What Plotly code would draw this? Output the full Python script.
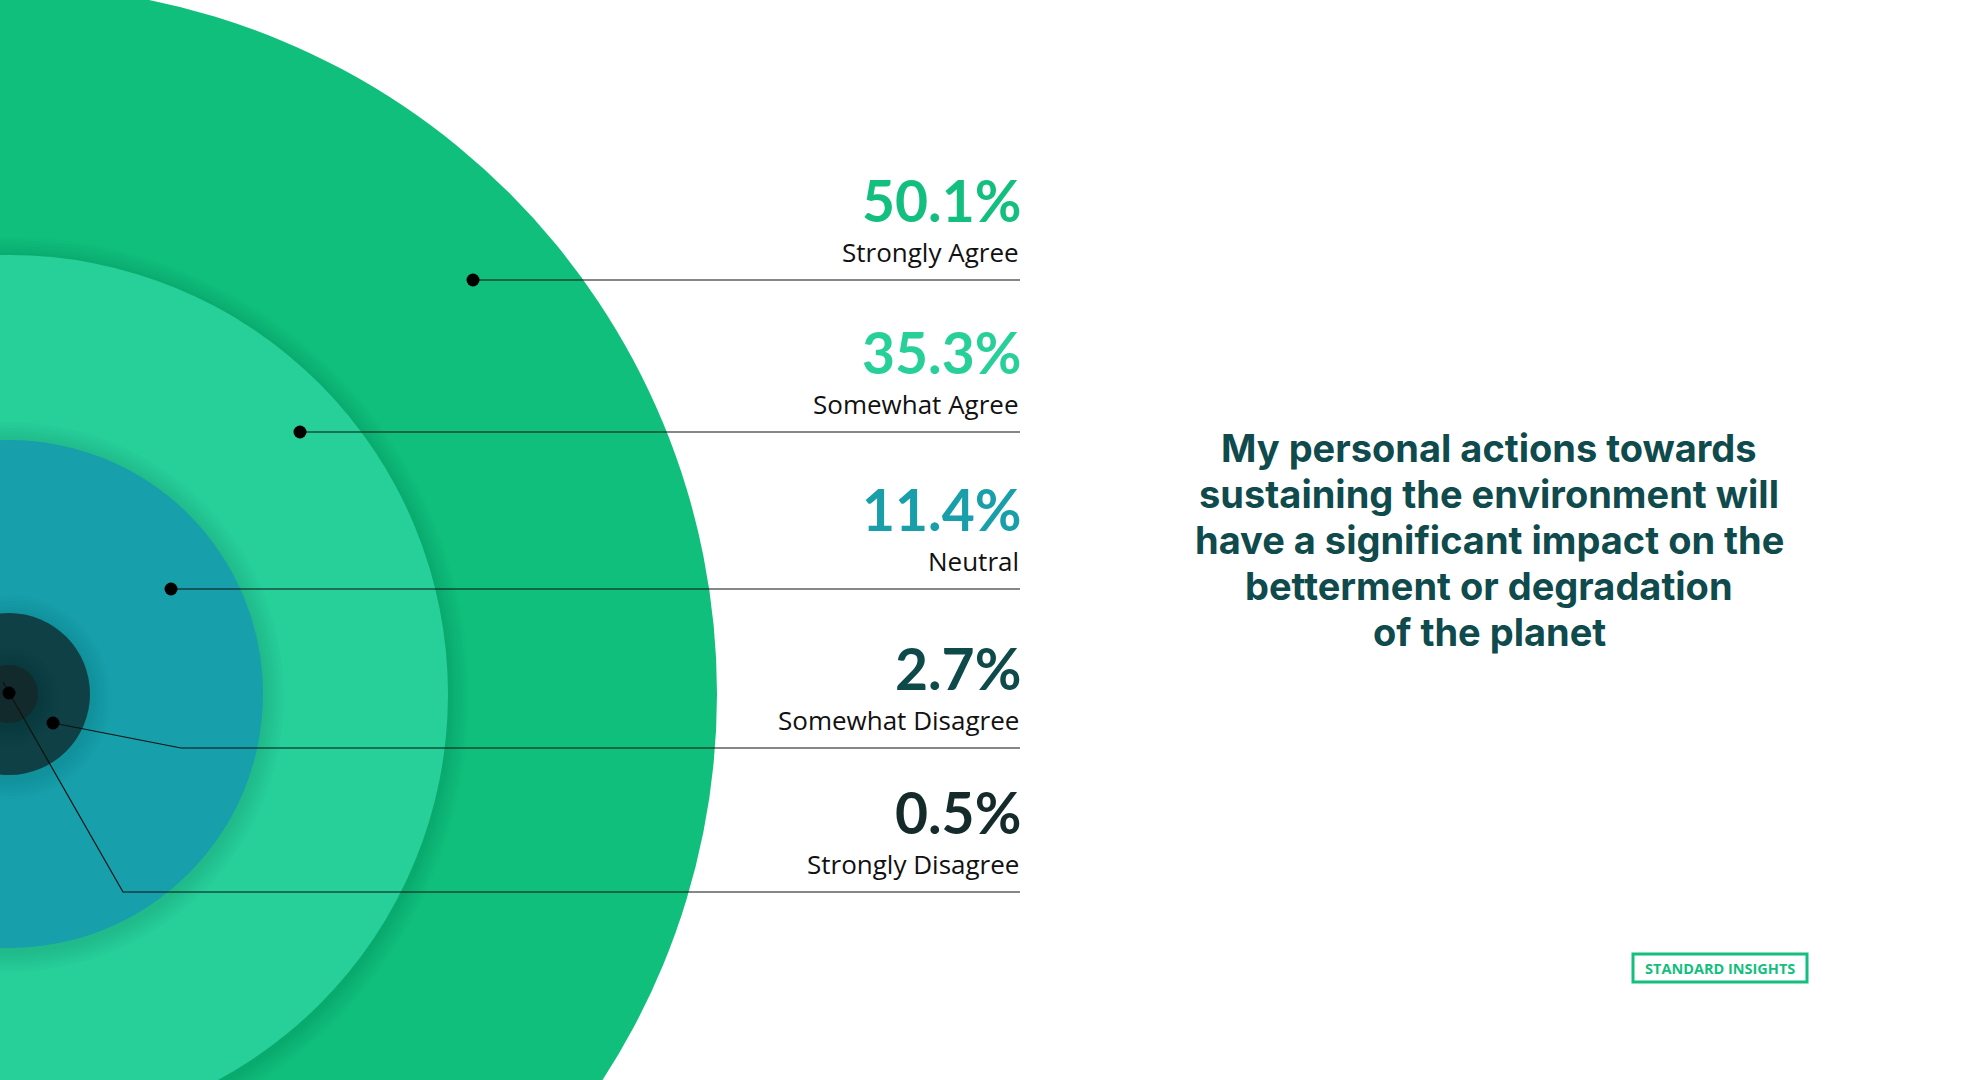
import plotly.graph_objects as go

# survey answers, outer ring first
categories = ["Strongly Agree", "Somewhat Agree", "Neutral", "Somewhat Disagree", "Strongly Disagree"]
shares = [50.1, 35.3, 11.4, 2.7, 0.5]
question_lines = ["My personal actions towards", "sustaining the environment will",
                  "have a significant impact on the", "betterment or degradation",
                  "of the planet"]

ring_colors = ["#10BF7C", "#27CF99", "#179FAB", "#0E4045", "#132A2C"]
text_colors = ["#13BF7E", "#27CF99", "#189FAA", "#0F4A4B", "#142A2B"]

# page layout (pixels)
W, H = 1962, 1080
CX, CY = 9, 694
ring_r = [708, 439, 254, 81, 29]
row_line_y = [280, 432, 589, 748, 892]
dot_xy = [(473, 280), (300, 432), (171, 589), (53, 723), (9, 693)]
elbow_x = [None, None, None, 181, 123]
LINE_END = 1020

fig = go.Figure()
shapes = []

for i, r in enumerate(ring_r):
    if i > 0:
        # soft shadow under the inner rings
        for k in range(7, 0, -1):
            rr = r + k * 3
            shapes.append(dict(type="circle", xref="x", yref="y",
                               x0=CX - rr, x1=CX + rr, y0=CY + 3 - rr, y1=CY + 3 + rr,
                               fillcolor="rgba(0,0,0,0.012)", line_width=0, layer="below"))
    shapes.append(dict(type="circle", xref="x", yref="y",
                       x0=CX - r, x1=CX + r, y0=CY - r, y1=CY + r,
                       fillcolor=ring_colors[i], line_width=0, layer="below"))

fig.update_layout(shapes=shapes)

# leader lines
for i, cat in enumerate(categories):
    dx, dy = dot_xy[i]
    ly = row_line_y[i]
    if elbow_x[i] is None:
        xs, ys = [dx, LINE_END], [ly, ly]
    else:
        xs, ys = [dx, elbow_x[i], LINE_END], [dy, ly, ly]
        if i == 4:
            xs, ys = [dx - 6, elbow_x[i], LINE_END], [dy - 11, ly, ly]
    fig.add_trace(go.Scatter(x=xs, y=ys, mode="lines",
                             line=dict(color="#111111", width=1.2),
                             hoverinfo="skip", showlegend=False))
    fig.add_trace(go.Scatter(x=[dx], y=[dy], mode="markers",
                             marker=dict(color="#000000", size=13),
                             hoverinfo="skip", showlegend=False))

    fig.add_annotation(x=LINE_END + 3, y=ly - 80, text=f"<b>{shares[i]}%</b>",
                       xref="x", yref="y", xanchor="right", yanchor="middle",
                       showarrow=False,
                       font=dict(family="Lato", size=57, color=text_colors[i]))
    fig.add_annotation(x=LINE_END + 1, y=ly - 28, text=cat,
                       xref="x", yref="y", xanchor="right", yanchor="middle",
                       showarrow=False,
                       font=dict(family="Open Sans", size=26, color="#111111"))

# question text, one line at a time
for j, line in enumerate(question_lines):
    fig.add_annotation(x=1489, y=448 + 46 * j, text=line, xref="x", yref="y",
                       xanchor="center", yanchor="middle", showarrow=False,
                       height=44, borderpad=0,
                       font=dict(family="Inter", size=38, weight=700, color="#0F4A4D"))

# logo box
fig.add_shape(type="rect", xref="x", yref="y", x0=1633, x1=1807, y0=954, y1=982,
              line=dict(color="#13BF7E", width=3), fillcolor="white")
fig.add_annotation(x=1720, y=968, text="<b>STANDARD INSIGHTS</b>", xref="x", yref="y",
                   showarrow=False, xanchor="center", yanchor="middle",
                   font=dict(family="Open Sans", size=14.5, color="#13BF7E"))

fig.update_xaxes(range=[0, W], visible=False, fixedrange=True)
fig.update_yaxes(range=[H, 0], visible=False, fixedrange=True)
fig.update_layout(width=W, height=H, margin=dict(l=0, r=0, t=0, b=0),
                  paper_bgcolor="white", plot_bgcolor="white")

fig.write_html("out.html", config={"displayModeBar": False},
               post_script="document.body.style.margin='0';document.body.style.overflow='hidden';")
